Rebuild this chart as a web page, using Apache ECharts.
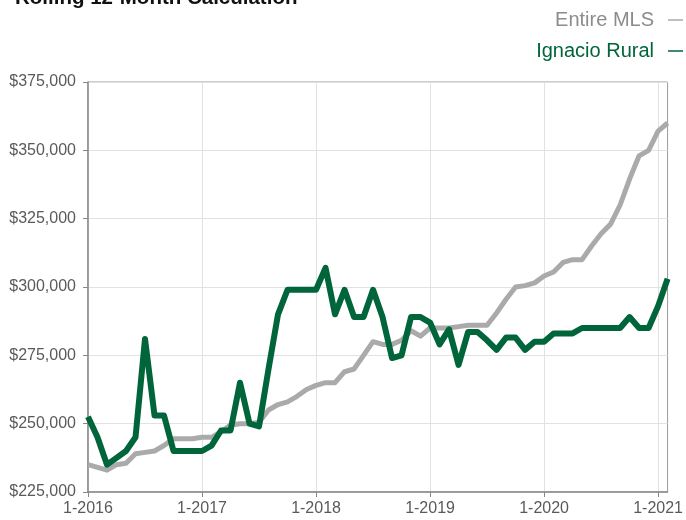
<!DOCTYPE html>
<html>
<head>
<meta charset="UTF-8">
<title>Rolling 12-Month Calculation</title>
<script src="https://cdn.jsdelivr.net/npm/echarts@6/dist/echarts.min.js"></script>
<style>
    html, body { margin: 0; padding: 0; background: #fff; }
    #chart { width: 686px; height: 520px; }
</style>
</head>
<body>
<div id="chart"></div>
<script type="text/javascript">
    // month labels 1-2016 .. 2-2021
    var years = [2016, 2017, 2018, 2019, 2020, 2021];
    var months = [];
    for (var y = 0; y < years.length; y++) {
        for (var m = 1; m <= 12; m++) {
            if (years[y] === 2021 && m > 2) break;
            months.push(m + '-' + years[y]);
        }
    }

    // values in thousands of dollars
    var entireMLS = [235, 234, 233, 235, 235.5, 239, 239.5, 240, 242, 244.5, 244.5, 244.5,
        245, 245, 247, 249.5, 250, 250, 250.5, 255, 257, 258, 260, 262.5,
        264, 265, 265, 269, 270, 275, 280, 279, 279, 280.5, 284, 282,
        285, 285, 285, 285.5, 286, 286, 286, 290.5, 295.5, 300, 300.5, 301.5,
        304, 305.5, 309, 310, 310, 315, 319.5, 323, 330, 339.5, 348, 350,
        357, 360];
    var ignacioRural = [252.5, 245, 235, 237.5, 240, 245, 281, 253, 253, 240, 240, 240,
        240, 242, 247.5, 247.5, 265, 250, 249, 270, 290, 299, 299, 299,
        299, 307, 290, 299, 289, 289, 299, 289, 274, 275, 289, 289,
        287, 279, 284.5, 271.5, 283.5, 283.5, 280.5, 277, 281.5, 281.5, 277, 280,
        280, 283, 283, 283, 285, 285, 285, 285, 285, 289, 285, 285,
        293, 303];

    var chart = echarts.init(document.getElementById('chart'));

    function toDollars(arr) {
        return arr.map(function (v) { return v * 1000; });
    }

    var option = {
        animation: false,
        title: {
            text: 'Rolling 12-Month Calculation',
            left: 10,
            top: -17,
            textStyle: { color: '#111', fontSize: 20.5, fontWeight: 'bold', fontFamily: 'Liberation Sans' }
        },
        legend: {
            orient: 'vertical',
            right: -2,
            top: 5,
            align: 'right',
            icon: 'rect',
            itemWidth: 15,
            itemHeight: 1.5,
            itemGap: 11,
            textStyle: { fontSize: 20, fontFamily: 'Liberation Sans', padding: [0, 9, 0, 0] },
            data: [
                { name: 'Entire MLS', textStyle: { color: '#8c8c8c' } },
                { name: 'Ignacio Rural', textStyle: { color: '#00653a' } }
            ]
        },
        grid: {
            left: 88,
            right: 18,
            top: 82,
            bottom: 28,
            show: true,
            borderColor: '#999',
            borderWidth: 1
        },
        xAxis: {
            type: 'category',
            data: months,
            boundaryGap: false,
            axisLine: { lineStyle: { color: '#888', width: 1.5 } },
            axisTick: { interval: 11, length: 5, lineStyle: { color: '#888' } },
            axisLabel: { interval: 11, color: '#5a5a5a', fontSize: 16, fontFamily: 'Liberation Sans', margin: 9 },
            splitLine: { show: true, interval: 11, lineStyle: { color: '#e2e2e2' } }
        },
        yAxis: {
            type: 'value',
            min: 225000,
            max: 375000,
            interval: 25000,
            axisLine: { show: true, lineStyle: { color: '#888', width: 1.5 } },
            axisTick: { show: true, length: 5, lineStyle: { color: '#888' } },
            axisLabel: {
                color: '#5a5a5a',
                fontSize: 16,
                fontFamily: 'Liberation Sans',
                margin: 12,
                formatter: function (v) { return '$' + v.toLocaleString('en-US'); }
            },
            splitLine: { lineStyle: { color: '#e2e2e2' } }
        },
        series: [
            {
                name: 'Entire MLS',
                type: 'line',
                data: toDollars(entireMLS),
                symbol: 'none',
                color: '#aaaaaa',
                lineStyle: { width: 5, color: '#aaaaaa', join: 'round' }
            },
            {
                name: 'Ignacio Rural',
                type: 'line',
                data: toDollars(ignacioRural),
                symbol: 'none',
                color: '#00653a',
                lineStyle: { width: 6, color: '#00653a', join: 'round' }
            }
        ]
    };

    chart.setOption(option);
</script>
</body>
</html>
